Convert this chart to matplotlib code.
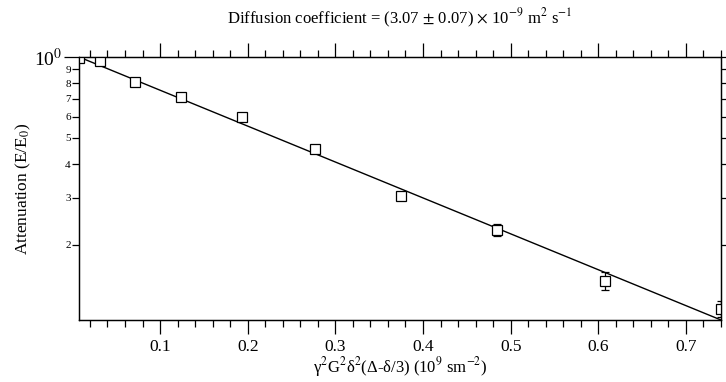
import numpy as np
import matplotlib
matplotlib.use("Agg")
import matplotlib.pyplot as plt
from matplotlib.ticker import LogLocator, FuncFormatter, NullFormatter, MultipleLocator

plt.rcParams['font.family'] = ['Liberation Serif', 'DejaVu Serif']
plt.rcParams['mathtext.fontset'] = 'stix'

# measured points (b-value, attenuation E/E0)
b_vals = [0.008, 0.0314, 0.0714, 0.124, 0.194, 0.277, 0.3746, 0.4848, 0.6078, 0.74]
atten = [0.99, 0.969, 0.809, 0.712, 0.596, 0.455, 0.305, 0.2275, 0.147, 0.1157]
atten_err = [0.004, 0.004, 0.004, 0.004, 0.004, 0.004, 0.005, 0.011, 0.0115, 0.008]

# fitted line end points
fit_x = [0.0075, 0.74]
fit_y = [1.0, 0.1052]

fig = plt.figure(figsize=(7.26, 3.82), dpi=100)
ax = fig.add_axes([79/726, 1 - 320/382, (721 - 79)/726, (320 - 57)/382])

ax.plot(fit_x, fit_y, color='black', lw=1.0, zorder=2)
ax.errorbar(b_vals, atten, yerr=atten_err, fmt='s', ms=7.5, mfc='white', mec='black',
            mew=0.9, ecolor='black', elinewidth=0.9, capsize=3, capthick=0.9, zorder=3)

ax.set_yscale('log')
ax.set_xlim(0.0075, 0.74)
ax.set_ylim(0.1052, 1.0)

ax.xaxis.set_major_locator(MultipleLocator(0.1))
ax.xaxis.set_minor_locator(MultipleLocator(0.02))
ax.yaxis.set_major_locator(LogLocator(base=10))
ax.yaxis.set_minor_locator(LogLocator(base=10, subs=np.arange(2, 10)))
ax.yaxis.set_major_formatter(FuncFormatter(lambda v, p: r'10$^{0}$' if abs(v - 1) < 1e-9 else ''))
ax.yaxis.set_minor_formatter(FuncFormatter(lambda v, p: '%d' % round(v * 10)))

ax.tick_params(axis='x', which='both', direction='out', top=True, bottom=True,
               labeltop=False, labelsize=12.5, width=0.9)
ax.tick_params(axis='x', which='major', length=10, pad=4)
ax.tick_params(axis='x', which='minor', length=5)
ax.tick_params(axis='y', which='both', direction='out', left=True, right=False, width=0.9)
ax.tick_params(axis='y', which='major', length=11, labelsize=14, pad=1)
ax.tick_params(axis='y', which='minor', length=5, labelsize=8, pad=1)

for s in ax.spines.values():
    s.set_linewidth(0.9)

ax2 = ax.twinx()
ax2.set_yscale('log')
ax2.set_ylim(ax.get_ylim())
ax2.yaxis.set_major_locator(LogLocator(base=10))
ax2.yaxis.set_minor_locator(LogLocator(base=10, subs=np.arange(2, 10)))
ax2.yaxis.set_major_formatter(NullFormatter())
ax2.yaxis.set_minor_formatter(NullFormatter())
ax2.tick_params(axis='y', which='both', direction='out', length=3.5, width=0.9)
for s in ax2.spines.values():
    s.set_linewidth(0.9)

ax.set_title(r'Diffusion coefficient = (3.07 $\pm$ 0.07) $\times$ 10$^{-9}$ m$^{2}$ s$^{-1}$',
             fontsize=12, pad=24)
ax.set_xlabel('γ$^2$G$^2$δ$^2$(Δ-δ/3) (10$^9$ sm$^{-2}$)', fontsize=12, labelpad=0)
ax.set_ylabel(r'Attenuation (E/E$_0$)', fontsize=12.5, labelpad=1)

fig.savefig('out.png', dpi=100)
